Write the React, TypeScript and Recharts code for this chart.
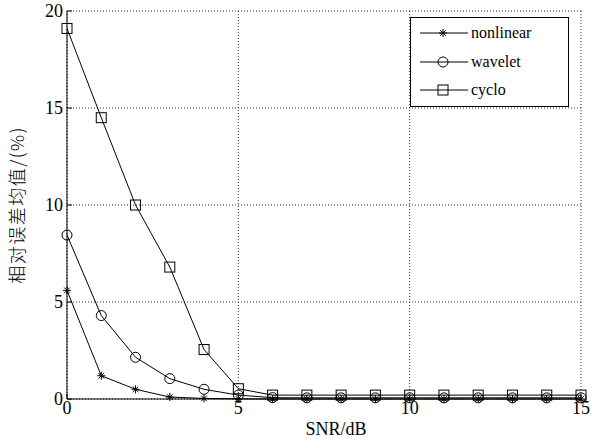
import React from "react";
import { LineChart, Line, XAxis, YAxis, CartesianGrid } from "recharts";

const snr = [0, 1, 2, 3, 4, 5, 6, 7, 8, 9, 10, 11, 12, 13, 14, 15];
const nonlinear = [5.6, 1.2, 0.5, 0.1, 0.03, 0.01, 0, 0, 0, 0, 0, 0, 0, 0, 0, 0];
const wavelet = [8.45, 4.3, 2.15, 1.05, 0.5, 0.2, 0.07, 0.06, 0.06, 0.06, 0.06, 0.06, 0.06, 0.06, 0.06, 0.06];
const cyclo = [19.1, 14.5, 10.0, 6.8, 2.55, 0.53, 0.2, 0.2, 0.2, 0.2, 0.2, 0.2, 0.2, 0.2, 0.2, 0.2];
const xTicks = [0, 5, 10, 15];
const yTicks = [0, 5, 10, 15, 20];

const data = snr.map((s, i) => ({
  snr: s,
  nonlinear: nonlinear[i],
  wavelet: wavelet[i],
  cyclo: cyclo[i],
}));

const FONT = 'Liberation Serif, Tinos, DejaVu Serif, Times New Roman, serif';

const Star = (props: any) => {
  const { cx, cy } = props;
  if (cx == null || cy == null) return null;
  const r = 4;
  const d = r * 0.7;
  return (
    <g stroke="#000" strokeWidth={1}>
      <line x1={cx - r} y1={cy} x2={cx + r} y2={cy} />
      <line x1={cx} y1={cy - r} x2={cx} y2={cy + r} />
      <line x1={cx - d} y1={cy - d} x2={cx + d} y2={cy + d} />
      <line x1={cx - d} y1={cy + d} x2={cx + d} y2={cy - d} />
    </g>
  );
};

const Circ = (props: any) => {
  const { cx, cy } = props;
  if (cx == null || cy == null) return null;
  return <circle cx={cx} cy={cy} r={5} fill="none" stroke="#000" strokeWidth={1} />;
};

const Sq = (props: any) => {
  const { cx, cy } = props;
  if (cx == null || cy == null) return null;
  return <rect x={cx - 5} y={cy - 5} width={10} height={10} fill="none" stroke="#000" strokeWidth={1} />;
};

const legendItems = [
  { name: "nonlinear", Icon: Star },
  { name: "wavelet", Icon: Circ },
  { name: "cyclo", Icon: Sq },
];

const LegendBox = () => (
  <div
    style={{
      position: "absolute",
      left: 410,
      top: 17,
      width: 159,
      height: 90,
      border: "1px solid #000",
      background: "#fff",
      boxSizing: "border-box",
      fontFamily: FONT,
      fontSize: 16,
      paddingTop: 1,
    }}
  >
    {legendItems.map(({ name, Icon }) => (
      <div key={name} style={{ display: "flex", alignItems: "center", height: 28.5 }}>
        <svg width={60} height={20} style={{ display: "block" }}>
          <line x1={9} y1={10} x2={57} y2={10} stroke="#000" strokeWidth={1} />
          <Icon cx={32} cy={10} />
        </svg>
        <span style={{ lineHeight: "20px" }}>{name}</span>
      </div>
    ))}
  </div>
);

const noTick = () => <g />;

export default function App() {
  return (
    <div style={{ position: "absolute", left: 0, top: 0, width: 595, height: 439, background: "#fff" }}>
      <LineChart width={595} height={439} data={data} margin={{ top: 11, right: 14, left: 0, bottom: 0 }}>
        <CartesianGrid stroke="#000" strokeDasharray="1 2" strokeWidth={0.8} />
        <XAxis
          dataKey="snr"
          type="number"
          domain={[0, 15]}
          ticks={xTicks}
          height={40}
          stroke="#000"
          tickSize={-5}
          tickMargin={7}
          tick={{ fill: "#000", fontFamily: FONT, fontSize: 18 }}
          label={{ value: "SNR/dB", position: "insideBottom", offset: 4, dx: 12, fill: "#000", fontFamily: FONT, fontSize: 18 }}
        />
        <XAxis
          xAxisId="top"
          orientation="top"
          dataKey="snr"
          type="number"
          domain={[0, 15]}
          ticks={xTicks}
          height={0}
          stroke="#000"
          tickSize={-5}
          tick={noTick}
        />
        <YAxis
          type="number"
          domain={[0, 20]}
          ticks={yTicks}
          width={67}
          stroke="#000"
          tickSize={-5}
          tickMargin={9}
          tick={{ fill: "#000", fontFamily: FONT, fontSize: 18 }}
          label={{
            value: "相对误差均值/(%)",
            angle: -90,
            position: "insideLeft",
            offset: 24,
            dx: -6,
            fill: "#000",
            fontFamily: "Noto Sans CJK SC, sans-serif",
            fontSize: 18,
            style: { textAnchor: "middle", fontWeight: 300, letterSpacing: 1.5 },
          }}
        />
        <YAxis
          yAxisId="right"
          orientation="right"
          type="number"
          domain={[0, 20]}
          ticks={yTicks}
          width={0}
          stroke="#000"
          tickSize={-5}
          tick={noTick}
        />
        <Line dataKey="nonlinear" stroke="#000" strokeWidth={1} dot={<Star />} isAnimationActive={false} />
        <Line dataKey="wavelet" stroke="#000" strokeWidth={1} dot={<Circ />} isAnimationActive={false} />
        <Line dataKey="cyclo" stroke="#000" strokeWidth={1} dot={<Sq />} isAnimationActive={false} />
      </LineChart>
      <LegendBox />
    </div>
  );
}
